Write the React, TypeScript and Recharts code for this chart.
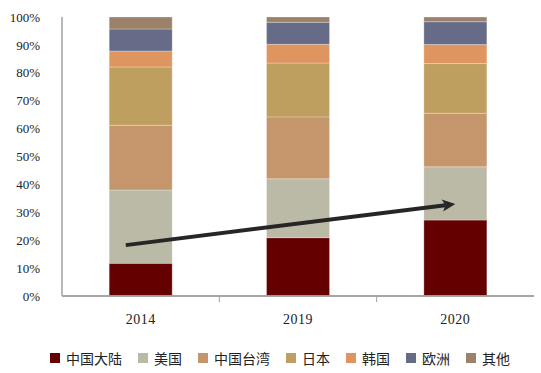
import React from 'react';
import { BarChart, Bar, XAxis, YAxis, Legend, ReferenceLine } from 'recharts';

const categories = ['2014', '2019', '2020'];
const seriesNames = ['中国大陆', '美国', '中国台湾', '日本', '韩国', '欧洲', '其他'];
const chinaMainland = [11.7, 20.9, 27.2];
const usa = [26.3, 21.1, 19.1];
const taiwan = [23.2, 22.2, 19.2];
const japan = [20.9, 19.3, 17.8];
const korea = [5.7, 6.7, 6.8];
const europe = [7.9, 7.9, 8.2];
const others = [4.3, 1.9, 1.7];
const yTicks = [0, 10, 20, 30, 40, 50, 60, 70, 80, 90, 100];
const arrowStart = { year: '2014', value: 18.9 };
const arrowEnd = { year: '2020', value: 33.0 };

const seriesValues = [chinaMainland, usa, taiwan, japan, korea, europe, others];
const seriesKeys = ['s0', 's1', 's2', 's3', 's4', 's5', 's6'];
const colors = ['#640000', '#BBBAA7', '#C5956B', '#BE9F5F', '#DF955F', '#666C88', '#9C826A'];

const data = categories.map((year, i) => {
  const row: any = { year };
  seriesKeys.forEach((k, j) => {
    row[k] = seriesValues[j][i];
  });
  return row;
});

const AXIS = '#a0a0a0';
const CHART_W = 541;
const CHART_H = 373;
const MARGIN = { top: 17, right: 7, left: 0, bottom: 27 };
const Y_AXIS_W = 62;
const PLOT_W = CHART_W - MARGIN.left - MARGIN.right - Y_AXIS_W;
const TICK_MARGIN = 18;

const ArrowShape = (props: any) => {
  const { x1, y1, x2, y2 } = props;
  const dx = x2 - x1;
  const dy = y2 - y1;
  const len = Math.hypot(dx, dy) || 1;
  const ux = dx / len;
  const uy = dy / len;
  const sx = x1 - ux * 15;
  const sy = y1 - uy * 15;
  const headLen = 13;
  const headW = 6;
  const bx = x2 - ux * headLen;
  const by = y2 - uy * headLen;
  const px = -uy;
  const py = ux;
  const nx = x2 - ux * (headLen - 3);
  const ny = y2 - uy * (headLen - 3);
  return (
    <g>
      <line x1={sx} y1={sy} x2={nx} y2={ny} stroke="#262626" strokeWidth={4} />
      <polygon
        points={`${x2},${y2} ${bx + px * headW},${by + py * headW} ${nx},${ny} ${bx - px * headW},${by - py * headW}`}
        fill="#262626"
      />
    </g>
  );
};

const CategoryTick = (props: any) => {
  const { x, y, payload, index } = props;
  const count = categories.length;
  const half = PLOT_W / count / 2;
  const axisY = y - TICK_MARGIN;
  return (
    <g>
      {index < count - 1 && (
        <line x1={x + half} y1={axisY} x2={x + half} y2={axisY + 6} stroke={AXIS} strokeWidth={1} />
      )}
      <text
        x={x}
        y={y}
        dy="0.71em"
        textAnchor="middle"
        fill="#222"
        fontSize={14}
        letterSpacing={0.5}
        fontFamily='"Liberation Serif"'
      >
        {payload.value}
      </text>
    </g>
  );
};

const renderLegend = () => (
  <div
    style={{
      display: 'flex',
      height: 20,
      alignItems: 'center',
      fontFamily: '"Noto Sans CJK SC"',
      fontSize: 14,
      color: '#222',
    }}
  >
    {seriesNames.map((name, j) => (
      <div key={name} style={{ display: 'flex', alignItems: 'center', marginRight: 16 }}>
        <span style={{ width: 10, height: 10, background: colors[j], marginRight: 6, display: 'inline-block' }} />
        <span style={{ lineHeight: '20px' }}>{name}</span>
      </div>
    ))}
  </div>
);

export default function App() {
  return (
    <div style={{ position: 'absolute', left: 0, top: 0, width: CHART_W, height: CHART_H, background: '#fff' }}>
      <BarChart
        width={CHART_W}
        height={CHART_H}
        data={data}
        margin={MARGIN}
        barCategoryGap="30%"
      >
        <XAxis
          xAxisId="cat"
          dataKey="year"
          axisLine={{ stroke: AXIS, strokeWidth: 1.5 }}
          tickLine={false}
          tickSize={0}
          tickMargin={TICK_MARGIN}
          height={30}
          interval={0}
          tick={<CategoryTick />}
        />
        <YAxis
          domain={[0, 100]}
          ticks={yTicks}
          interval={0}
          tickFormatter={(v: number) => `${v}%`}
          width={Y_AXIS_W}
          tickSize={0}
          tickMargin={22}
          tickLine={false}
          axisLine={{ stroke: AXIS, strokeWidth: 1.5 }}
          tick={{ fill: '#222', fontSize: 13, fontFamily: '"Liberation Serif"' }}
        />
        {seriesKeys.map((k, j) => (
          <Bar
            key={k}
            xAxisId="cat"
            dataKey={k}
            name={seriesNames[j]}
            stackId="a"
            fill={colors[j]}
            stroke="#ffffff"
            strokeOpacity={0.35}
            strokeWidth={0.8}
            isAnimationActive={false}
          />
        ))}
        <ReferenceLine xAxisId="cat" y={0} stroke={AXIS} strokeWidth={1.5} ifOverflow="visible" />
        <ReferenceLine
          xAxisId="cat"
          segment={[
            { x: arrowStart.year, y: arrowStart.value },
            { x: arrowEnd.year, y: arrowEnd.value },
          ]}
          shape={ArrowShape}
        />
        <Legend
          verticalAlign="bottom"
          align="left"
          height={20}
          wrapperStyle={{ left: 50, bottom: 5 }}
          content={renderLegend}
        />
      </BarChart>
    </div>
  );
}
